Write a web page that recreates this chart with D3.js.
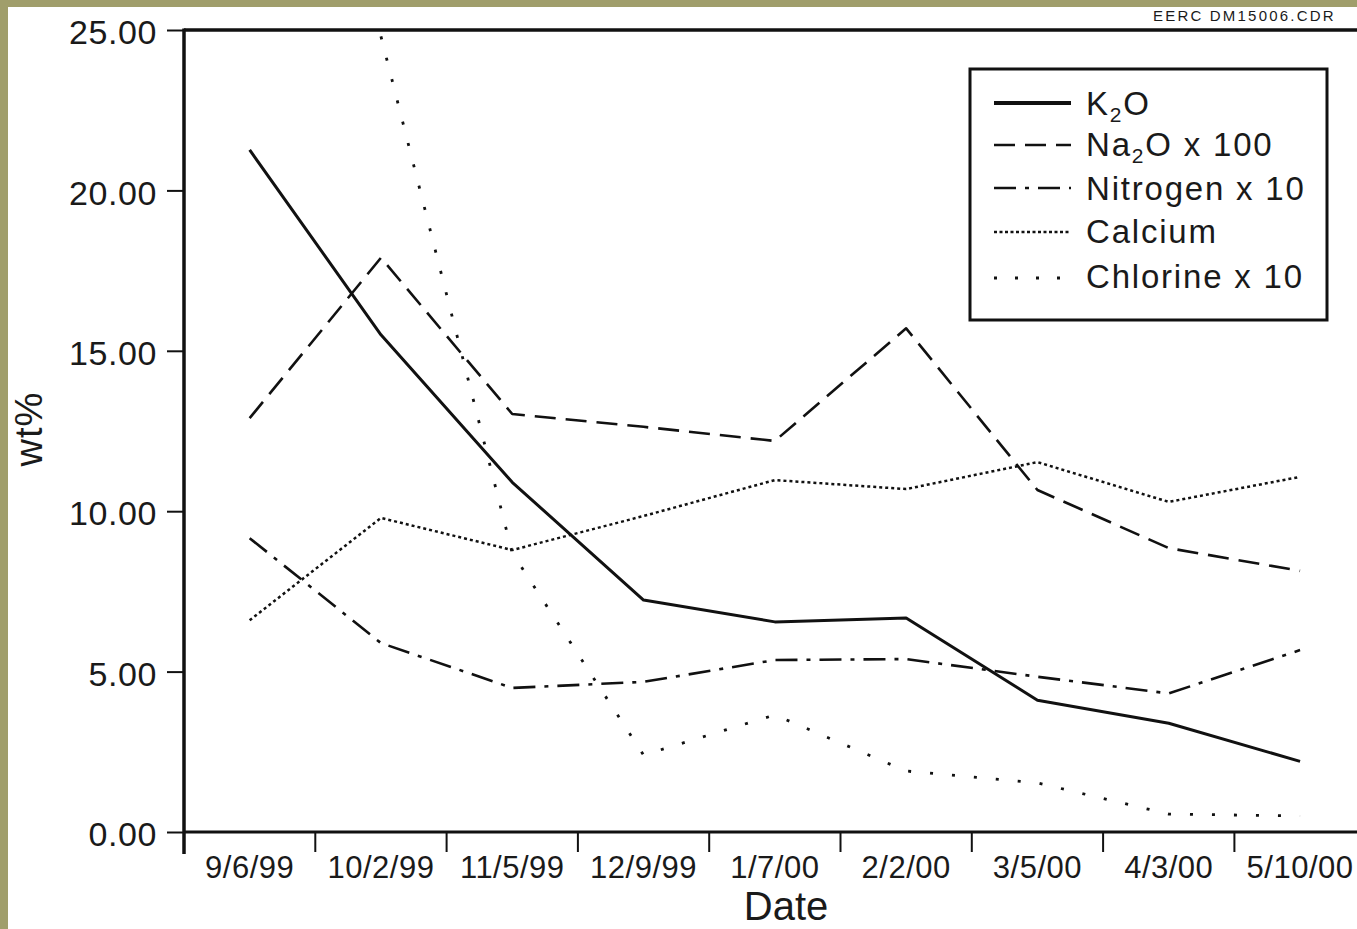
<!DOCTYPE html>
<html>
<head>
<meta charset="utf-8">
<script src="https://cdn.jsdelivr.net/npm/d3@7/dist/d3.min.js"></script>
<style>
  html, body { margin: 0; padding: 0; background: #ffffff; }
  svg { display: block; }
  text { font-family: "Liberation Sans", Arial, Helvetica, sans-serif; fill: #1a1a1a; }
</style>
</head>
<body>
<svg id="chart" width="1357" height="929"></svg>
<script>
// ---- data ----
const dates = ["9/6/99", "10/2/99", "11/5/99", "12/9/99", "1/7/00", "2/2/00", "3/5/00", "4/3/00", "5/10/00"];
const k2o      = [21.26, 15.5, 10.9, 7.23, 6.55, 6.67, 4.11, 3.39, 2.2];
const na2o100  = [12.9, 17.9, 13.03, 12.63, 12.19, 15.7, 10.66, 8.85, 8.14];
const nitrogen10 = [9.16, 5.89, 4.49, 4.68, 5.36, 5.39, 4.84, 4.32, 5.67];
const calcium  = [6.6, 9.79, 8.79, 9.85, 10.97, 10.69, 11.53, 10.29, 11.07];
const chlorine10 = [null, 24.8, 8.7, 2.4, 3.65, 1.9, 1.53, 0.56, 0.5];
const yTicks = [0, 5, 10, 15, 20, 25];
const seriesNames = ["K2O", "Na2O x 100", "Nitrogen x 10", "Calcium", "Chlorine x 10"];

(function () {
const seriesList = [
  { name: seriesNames[0], values: k2o,        dash: null,          width: 3 },
  { name: seriesNames[1], values: na2o100,    dash: "21,10",       width: 2.6 },
  { name: seriesNames[2], values: nitrogen10, dash: "22,9,4,9",    width: 2.6 },
  { name: seriesNames[3], values: calcium,    dash: "3,3",         width: 2.5 },
  { name: seriesNames[4], values: chlorine10, dash: "3,19",        width: 2.8 }
];

const svg = d3.select("#chart");
const W = 1357, H = 929;

// olive frame strips
svg.append("rect").attr("x", 0).attr("y", 0).attr("width", W).attr("height", 7).attr("fill", "#a09e6b");
svg.append("rect").attr("x", 0).attr("y", 0).attr("width", 8).attr("height", H).attr("fill", "#a09e6b");

const plotLeft = 184, plotTop = 30, plotBottom = 832;
const band = 131.3;
const x = d3.scaleBand().domain(dates).range([plotLeft, plotLeft + band * dates.length]).paddingInner(0).paddingOuter(0);
const y = d3.scaleLinear().domain([0, 25]).range([plotBottom, plotTop]);
const cx = d => x(d) + x.bandwidth() / 2;

// top frame line
svg.append("line").attr("x1", plotLeft).attr("x2", W).attr("y1", plotTop).attr("y2", plotTop)
  .attr("stroke", "#111").attr("stroke-width", 3.5);

// y axis
const yAxis = svg.append("g").attr("transform", `translate(${plotLeft},0)`)
  .call(d3.axisLeft(y).tickValues(yTicks).tickFormat(d3.format(".2f")).tickSize(17).tickSizeOuter(0).tickPadding(10));
yAxis.select(".domain").remove();
yAxis.selectAll(".tick line").attr("stroke", "#111").attr("stroke-width", 2);
yAxis.selectAll(".tick text").attr("font-size", 34).attr("letter-spacing", 0.6).attr("dy", "0.4em")
  .style("font-family", "'Liberation Sans', Arial, sans-serif").attr("fill", "#1a1a1a");

// x axis labels
const xAxis = svg.append("g").attr("transform", `translate(0,${plotBottom})`)
  .call(d3.axisBottom(x).tickSize(0).tickPadding(24));
xAxis.select(".domain").remove();
xAxis.selectAll(".tick text").attr("font-size", 31).attr("letter-spacing", 0.5)
  .style("font-family", "'Liberation Sans', Arial, sans-serif").attr("fill", "#1a1a1a");

// x boundary ticks
svg.append("g").selectAll("line").data(dates.slice(1)).join("line")
  .attr("x1", d => x(d)).attr("x2", d => x(d))
  .attr("y1", plotBottom).attr("y2", plotBottom + 20)
  .attr("stroke", "#111").attr("stroke-width", 2);

// axis lines
svg.append("line").attr("x1", plotLeft).attr("x2", W).attr("y1", plotBottom).attr("y2", plotBottom)
  .attr("stroke", "#111").attr("stroke-width", 3);
svg.append("line").attr("x1", plotLeft).attr("x2", plotLeft).attr("y1", plotTop - 1.5).attr("y2", plotBottom + 22)
  .attr("stroke", "#111").attr("stroke-width", 3.5);

// series lines
const line = d3.line()
  .defined(d => d.v !== null)
  .x(d => cx(d.date))
  .y(d => y(d.v));

svg.append("g").selectAll("path").data(seriesList).join("path")
  .attr("d", s => line(s.values.map((v, i) => ({ date: dates[i], v }))))
  .attr("fill", "none")
  .attr("stroke", "#111")
  .attr("stroke-width", s => s.width)
  .attr("stroke-dasharray", s => s.dash)
  .attr("stroke-linejoin", "round");

// axis titles
svg.append("text").attr("x", 786).attr("y", 920).attr("text-anchor", "middle")
  .attr("font-size", 40).text("Date");
svg.append("text").attr("transform", "translate(42,429) rotate(-90)").attr("text-anchor", "middle")
  .attr("font-size", 38).attr("letter-spacing", 1).text("wt%");

// top-right code
svg.append("text").attr("x", 1153).attr("y", 21).attr("font-size", 15).attr("letter-spacing", 2.2)
  .text("EERC DM15006.CDR");

// legend
const lg = svg.append("g");
lg.append("rect").attr("x", 970).attr("y", 69).attr("width", 357).attr("height", 251)
  .attr("fill", "#fff").attr("stroke", "#111").attr("stroke-width", 3);
const rowY = [103, 145, 188, 232, 278];
const baseY = [115, 156, 200, 243, 288];
const legendRows = lg.selectAll("g.row").data(seriesList).join("g").attr("class", "row");
legendRows.append("line")
  .attr("x1", 994).attr("x2", 1071)
  .attr("y1", (s, i) => rowY[i]).attr("y2", (s, i) => rowY[i])
  .attr("stroke", "#111")
  .attr("stroke-width", (s, i) => i === 0 ? 4 : s.width)
  .attr("stroke-dasharray", (s, i) => i === 3 ? "3,2.5" : (i === 4 ? "3,18" : s.dash));

const legendText = legendRows.append("text")
  .attr("x", 1086).attr("y", (s, i) => baseY[i])
  .attr("font-size", 33).attr("letter-spacing", 1.8);
legendText.each(function(s) {
  const t = d3.select(this);
  const m = s.name.match(/^([A-Za-z]+)2(.*)$/);
  if (m) {
    t.append("tspan").text(m[1]);
    t.append("tspan").attr("font-size", 21).attr("dy", 7).text("2");
    t.append("tspan").attr("dy", -7).text(m[2]);
  } else {
    t.text(s.name);
  }
});
})();
</script>
</body>
</html>
